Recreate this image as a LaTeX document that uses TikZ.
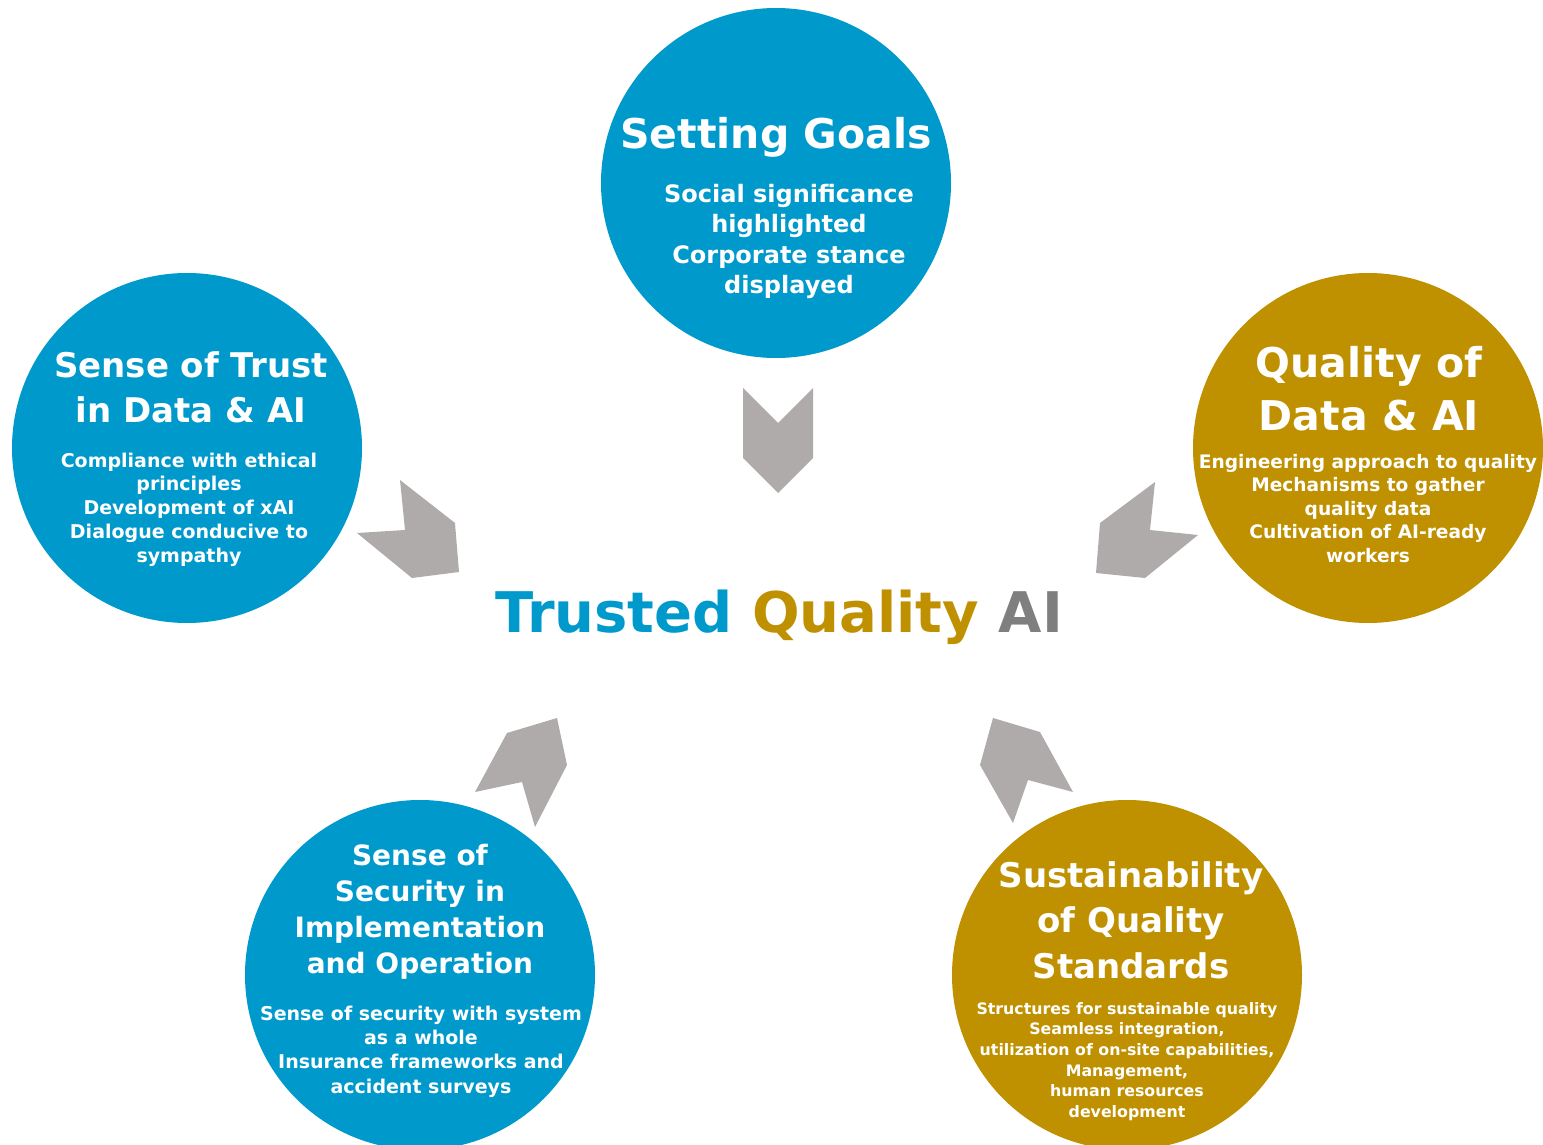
\documentclass[tikz,border=0pt]{standalone}
\usepackage{fontspec}
\setmainfont{DejaVu Sans}
\definecolor{cblue}{HTML}{0099CC}
\definecolor{cgold}{HTML}{BF9000}
\definecolor{cgray}{HTML}{AFABAB}
\definecolor{tgray}{HTML}{7F7F7F}
\newcommand{\fs}[2]{\fontsize{#1}{#2}\selectfont\bfseries}
\newcommand{\up}{\rule{0pt}{0.78em}}
\begin{document}
\begin{tikzpicture}[x=1pt,y=-1pt,
  disc/.style={circle, inner sep=0pt, minimum size=350pt},
  txt/.style={text=white, align=center, inner sep=0pt, anchor=north},
  chev/.style={fill=cgray}]
\useasboundingbox (0,0) rectangle (1543,1145);
% circles
\node[disc, fill=cblue] (goal) at (776,183) {};
\node[disc, fill=cblue] (trust) at (187,448) {};
\node[disc, fill=cgold] (qual) at (1368,448) {};
\node[disc, fill=cblue] (sec) at (420,975) {};
\node[disc, fill=cgold] (sus) at (1127,975) {};
% chevrons
\fill[chev] (743,388) -- (778,423) -- (813,388) -- (813,458) -- (778,493) -- (743,458) -- cycle;
\fill[chev] (400,480) -- (455,523) -- (459,572) -- (412,578) -- (357,533) -- (405,530) -- cycle;
\fill[chev] (1155,482) -- (1150,530) -- (1198,535) -- (1145,578) -- (1096,573) -- (1100,523) -- cycle;
\fill[chev] (507,733) -- (557,718) -- (567,765) -- (535,827) -- (522,782) -- (475,792) -- cycle;
\fill[chev] (993,718) -- (1040,732) -- (1073,792) -- (1028,780) -- (1013,823) -- (980,765) -- cycle;
% title
\node[inner sep=0pt, anchor=base, font=\fs{56}{60}] (title) at (779,632)
  {\textcolor{cblue}{Trusted} \textcolor{cgold}{Quality} \textcolor{tgray}{AI}};
% top
\node[txt, font=\fs{41}{46}] (goalh) at (776,{148-0.78*41}) {\up Setting Goals};
\node[txt, font=\fs{24}{30.5}] (goalb) at (789,{202-0.78*24})
  {\up Social significance\\highlighted\\Corporate stance\\displayed};
% left
\node[txt, font=\fs{34}{45}] (trusth) at (191,{377-0.78*34}) {\up Sense of Trust\\in Data \& AI};
\node[txt, font=\fs{19}{23.75}] (trustb) at (189,{467-0.78*19})
  {\up Compliance with ethical\\principles\\Development of xAI\\Dialogue conducive to\\sympathy};
% right
\node[txt, font=\fs{41}{53}] (qualh) at (1369,{377-0.78*41}) {\up Quality of\\Data \& AI};
\node[txt, font=\fs{18.6}{23.5}] (qualb) at (1368,{468-0.78*18.6})
  {\up Engineering approach to quality\\Mechanisms to gather\\quality data\\Cultivation of AI-ready\\workers};
% bottom left
\node[txt, font=\fs{28}{36}] (sech) at (420,{865-0.78*28})
  {\up Sense of\\Security in\\Implementation\\and Operation};
\node[txt, font=\fs{19}{24.3}] (secb) at (421,{1020-0.78*19})
  {\up Sense of security with system\\as a whole\\Insurance frameworks and\\accident surveys};
% bottom right
\node[txt, font=\fs{34}{45.5}] (sush) at (1131,{887-0.78*34})
  {\up Sustainability\\of Quality\\Standards};
\node[txt, font=\fs{15.8}{20.6}] (susb) at (1127,{1014-0.78*15.8})
  {\up Structures for sustainable quality\\Seamless integration,\\utilization of on-site capabilities,\\Management,\\human resources\\development};
\end{tikzpicture}
\end{document}
